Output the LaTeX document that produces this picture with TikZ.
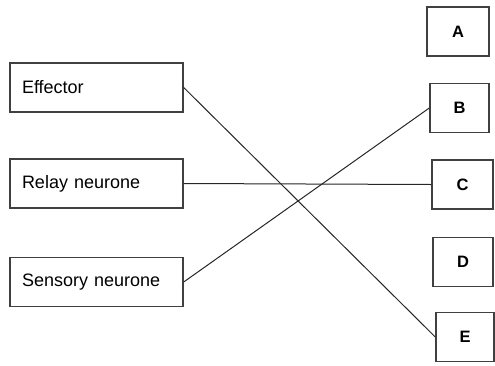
\documentclass[tikz,border=0pt]{standalone}
\usepackage{fontspec}
\setmainfont{Liberation Sans}
\tikzset{
  cellbox/.style={draw=black!75, line width=1.4pt, rectangle, minimum height=49pt, inner xsep=12pt, text width=149pt, align=left, font={\fontsize{18}{21}\selectfont}},
  letterbox/.style={draw=black!75, line width=1.4pt, rectangle, minimum width=60pt, minimum height=49pt, font={\fontsize{16.5}{19}\selectfont\bfseries}},
  joinline/.style={draw=black!85, line width=1pt}
}

\begin{document}
\begin{tikzpicture}[x=1pt,y=-1pt]
\useasboundingbox (0,0) rectangle (495,365);
% left column
\node[cellbox] (effector) at (96.5,87.5) {Effector};
\node[cellbox] (relay) at (96.5,183.5) {Relay neurone};
\node[cellbox] (sensory) at (96.5,282) {Sensory neurone};
% right column
\node[letterbox, minimum width=62pt] (A) at (458,31.5) {A};
\node[letterbox, minimum width=59pt] (B) at (459.5,108) {B};
\node[letterbox, minimum width=61pt] (C) at (462.5,184.5) {C};
\node[letterbox] (D) at (463,262) {D};
\node[letterbox, minimum width=58pt] (E) at (465,337) {E};
% matching lines
\draw[joinline] (effector.east) -- (E.west);
\draw[joinline] (relay.east) -- (C.west);
\draw[joinline] (sensory.east) -- (B.west);
\end{tikzpicture}
\end{document}
